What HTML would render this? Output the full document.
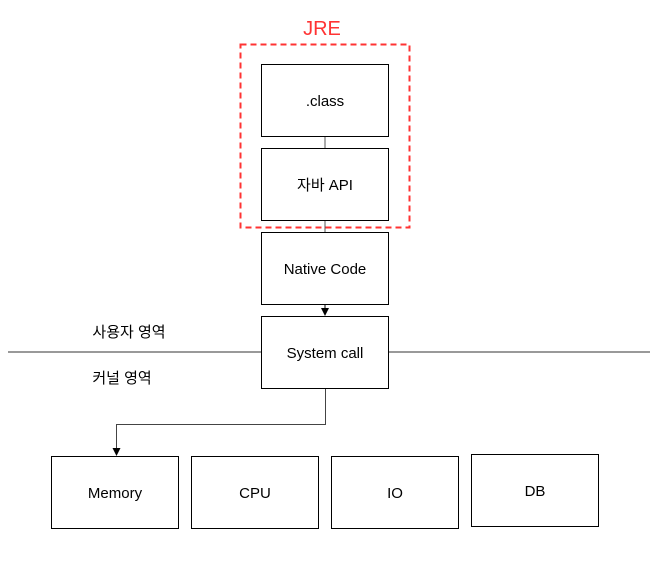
<!DOCTYPE html>
<html><head><meta charset="utf-8"><style>body{margin:0;background:#fff}</style></head><body>
<svg width="663" height="558" xmlns="http://www.w3.org/2000/svg" font-family="Liberation Sans, Noto Sans CJK KR, sans-serif" font-size="15">
<rect width="663" height="558" fill="#fff"/>
<line x1="8" y1="352" x2="261" y2="352" stroke="#333"/>
<line x1="388" y1="352" x2="650" y2="352" stroke="#333"/>
<line x1="325" y1="136" x2="325" y2="148" stroke="#555"/>
<line x1="325" y1="220" x2="325" y2="232" stroke="#555"/>
<line x1="325" y1="304" x2="325" y2="310" stroke="#000"/>
<polygon points="321,308 329,308 325,316" fill="#000"/>
<polyline points="325.5,388 325.5,424.5 116.5,424.5 116.5,449" fill="none" stroke="#444"/>
<polygon points="112.5,448 120.5,448 116.5,456" fill="#000"/>
<g fill="#fff" stroke="#000">
<rect x="261.5" y="64.5" width="127" height="72"/>
<rect x="261.5" y="148.5" width="127" height="72"/>
<rect x="261.5" y="232.5" width="127" height="72"/>
<rect x="261.5" y="316.5" width="127" height="72"/>
<rect x="51.5" y="456.5" width="127" height="72"/>
<rect x="191.5" y="456.5" width="127" height="72"/>
<rect x="331.5" y="456.5" width="127" height="72"/>
<rect x="471.5" y="454.5" width="127" height="72"/>
</g>
<rect x="240.5" y="44.5" width="169" height="183" fill="none" stroke="#ff3333" stroke-width="2" stroke-dasharray="6,4"/>
<g text-anchor="middle" fill="#000">
<text x="322" y="35" font-size="20" fill="#ff3333">JRE</text>
<text x="325" y="106">.class</text>
<text x="325" y="190">자바 API</text>
<text x="325" y="274">Native Code</text>
<text x="325" y="358">System call</text>
<text x="115" y="498">Memory</text>
<text x="255" y="498">CPU</text>
<text x="395" y="498">IO</text>
<text x="535" y="496">DB</text>
<text x="129" y="337">사용자 영역</text>
<text x="122" y="383">커널 영역</text>
</g>
</svg>
</body></html>
